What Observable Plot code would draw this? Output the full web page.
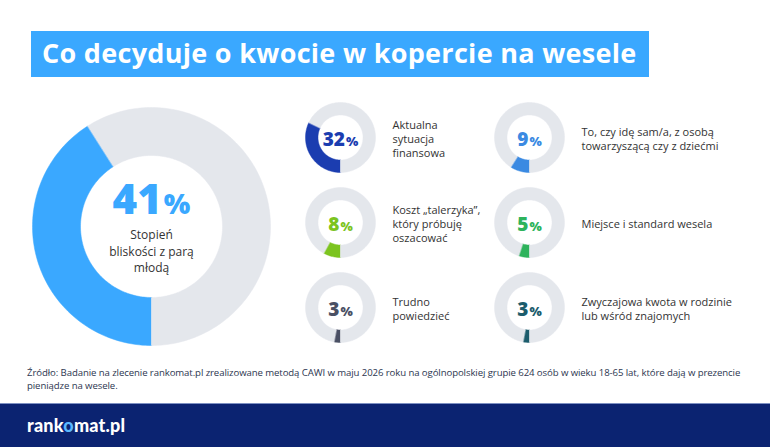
<!DOCTYPE html>
<html>
<head>
<meta charset="utf-8">
<script src="https://cdn.jsdelivr.net/npm/d3@7"></script>
<script src="https://cdn.jsdelivr.net/npm/@observablehq/plot@0.6"></script>
<style>
  html, body { margin: 0; padding: 0; background: #fff; }
  #page { position: relative; width: 770px; height: 447px; overflow: hidden; background: #fff; font-family: "Open Sans", sans-serif; }
  #title { position: absolute; left: 31px; top: 31px; width: 618px; height: 46px; background: #3aa8ff; color: #fff;
           font-weight: 700; font-size: 27px; line-height: 44px; letter-spacing: 0.3px; padding-left: 11px; box-sizing: border-box; white-space: nowrap; }
  #chart { position: absolute; left: 0; top: 0; }
  .source { position: absolute; left: 27px; font-size: 9.6px; letter-spacing: -0.09px; line-height: 12px; color: #2c3650; white-space: nowrap; }
  #footer { position: absolute; left: 0; top: 403px; width: 770px; height: 44px; background: #0b2371; border-top: 1px solid #7d90c2; box-sizing: border-box; }
  #logo { position: absolute; left: 27px; top: 6px; color: #fff; font-family: Lato, sans-serif; font-weight: 900; font-size: 18px; line-height: 30px; letter-spacing: 0.2px; }
  #logo span { color: #5ab8ff; }
</style>
</head>
<body>
<div id="page">
  <div id="chart"></div>
  <div id="title">Co decyduje o kwocie w kopercie na wesele</div>
  <div class="source" style="top:367px">Źródło: Badanie na zlecenie rankomat.pl zrealizowane metodą CAWI w maju 2026 roku na ogólnopolskiej grupie 624 osób w wieku 18-65 lat, które dają w prezencie</div>
  <div class="source" style="top:380px">pieniądze na wesele.</div>
  <div id="footer"><div id="logo">rank<span>o</span>mat.pl</div></div>
</div>
<script>
// Survey answers: what decides the amount put in the wedding envelope (%)
const categories = [
  "Stopień\nbliskości z parą\nmłodą",
  "Aktualna\nsytuacja\nfinansowa",
  "To, czy idę sam/a, z osobą\ntowarzyszącą czy z dziećmi",
  "Koszt „talerzyka”,\nktóry próbuję\noszacować",
  "Miejsce i standard wesela",
  "Trudno\npowiedzieć",
  "Zwyczajowa kwota w rodzinie\nlub wśród znajomych"
];
const values = [41, 32, 9, 8, 5, 3, 3];
const palette = ["#3aa8ff", "#1b3db0", "#3b8ae2", "#7cc41f", "#2eb35c", "#4a5064", "#1c5c6c"];
const restColor = "#e4e7ec";

// Layout: one large donut on the left, the rest in a 2-column grid
function layout(i) {
  if (i === 0) return {cx: 151, cy: 226, r0: 71, r1: 119, big: true};
  const col = (i - 1) % 2, row = Math.floor((i - 1) / 2);
  return {cx: 340 + col * 189, cy: 137 + row * 85, r0: 22.5, r1: 35, big: false};
}

const donuts = values.map((v, i) => ({i, value: v, label: categories[i], color: palette[i], ...layout(i)}));

// Percent -> angle, starting at the bottom and running clockwise
const angle = d3.scaleLinear([0, 100], [Math.PI, 3 * Math.PI]);

// Ring slices as closed polygons: [0, value] in colour, [value, 100] in grey
const slices = [];
for (const d of donuts) {
  const parts = [[0, d.value, d.color], [d.value, 100, restColor]];
  parts.forEach(([p0, p1, color], k) => {
    const a0 = angle(p0), a1 = angle(p1);
    const n = Math.max(2, Math.ceil((a1 - a0) / (Math.PI / 120)));
    const key = `${d.i}-${k}`;
    for (let j = 0; j <= n; j++) {
      const a = a0 + (a1 - a0) * j / n;
      slices.push({key, color, x: d.cx + d.r1 * Math.sin(a), y: d.cy - d.r1 * Math.cos(a)});
    }
    for (let j = n; j >= 0; j--) {
      const a = a0 + (a1 - a0) * j / n;
      slices.push({key, color, x: d.cx + d.r0 * Math.sin(a), y: d.cy - d.r0 * Math.cos(a)});
    }
  });
}

// Measure the number and the smaller "%" sign so the pair is centred in the ring
const ctx = document.createElement("canvas").getContext("2d");
function textWidth(str, font) { ctx.font = font; return ctx.measureText(str).width; }
const numbers = donuts.map(d => {
  const numSize = d.big ? 42 : 19, pctSize = d.big ? 28 : 13;
  const weight = 800;
  const wNum = textWidth(String(d.value), `${weight} ${numSize}px "Open Sans"`);
  const wPct = textWidth("%", `${weight} ${pctSize}px "Open Sans"`);
  const gap = d.big ? 2 : 1;
  const split = d.cx - (wNum + wPct + gap) / 2 + wNum;
  return {...d, split, gap, base: d.big ? d.cy - 13 : d.cy + 8, numSize, pctSize};
});

const bigNum = numbers.filter(d => d.big), smallNum = numbers.filter(d => !d.big);

const chart = Plot.plot({
  width: 770,
  height: 360,
  margin: 0,
  x: {domain: [0, 770], range: [0, 770], axis: null},
  y: {domain: [0, 360], range: [0, 360], axis: null},
  style: {fontFamily: "Open Sans, sans-serif", background: "transparent"},
  marks: [
    Plot.line(slices, {x: "x", y: "y", z: "key", fill: "color", stroke: "color", strokeWidth: 0.5, curve: "linear-closed"}),
    // large donut value
    Plot.text(bigNum, {x: "split", y: "base", text: d => String(d.value), fill: "color", fontSize: 42, fontWeight: 800, textAnchor: "end", lineAnchor: "bottom"}),
    Plot.text(bigNum, {x: d => d.split + d.gap, y: "base", text: () => "%", fill: "color", fontSize: 28, fontWeight: 800, textAnchor: "start", lineAnchor: "bottom"}),
    Plot.text(bigNum, {x: "cx", y: d => d.cy + 24, text: "label", fill: "#333", fontSize: 12, lineHeight: 1.38, textAnchor: "middle", lineAnchor: "middle"}),
    // small donut values
    Plot.text(smallNum, {x: "split", y: "base", text: d => String(d.value), fill: "color", fontSize: 19, fontWeight: 800, textAnchor: "end", lineAnchor: "bottom"}),
    Plot.text(smallNum, {x: d => d.split + d.gap, y: "base", text: () => "%", fill: "color", fontSize: 13, fontWeight: 800, textAnchor: "start", lineAnchor: "bottom"}),
    Plot.text(smallNum, {x: d => d.cx + 52, y: d => d.cy + 1, text: "label", fill: "#333", fontSize: 11, lineHeight: 1.3, textAnchor: "start", lineAnchor: "middle"})
  ]
});
document.getElementById("chart").appendChild(chart);
</script>
</body>
</html>
